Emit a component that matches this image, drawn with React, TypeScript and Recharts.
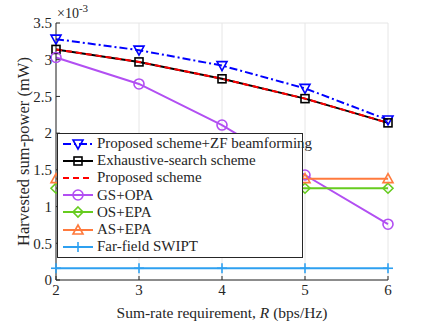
import { CartesianGrid, Legend, Line, LineChart, XAxis, YAxis } from 'recharts'

const rates = [2, 3, 4, 5, 6]
const proposedZf = [3.28, 3.13, 2.92, 2.61, 2.18]
const exhaustive = [3.14, 2.97, 2.74, 2.47, 2.14]
const proposed = [3.14, 2.97, 2.74, 2.47, 2.14]
const gsOpa = [3.03, 2.67, 2.11, 1.43, 0.76]
const osEpa = [1.25, 1.25, 1.25, 1.25, 1.25]
const asEpa = [1.38, 1.38, 1.38, 1.38, 1.38]
const farField = [0.16, 0.16, 0.16, 0.16, 0.16]
const yTicks = [0, 0.5, 1, 1.5, 2, 2.5, 3, 3.5]

const FONT = 'Liberation Serif, DejaVu Serif, serif'

type Series = {
  key: string
  name: string
  color: string
  dash?: string
  marker: 'tri-down' | 'square' | 'none' | 'circle' | 'diamond' | 'tri-up' | 'plus'
}

const series: Series[] = [
  { key: 'proposedZf', name: 'Proposed scheme+ZF beamforming', color: '#0000ff', dash: '8 3 2 3', marker: 'tri-down' },
  { key: 'exhaustive', name: 'Exhaustive-search scheme', color: '#000000', marker: 'square' },
  { key: 'proposed', name: 'Proposed scheme', color: '#ff0000', dash: '6 4', marker: 'none' },
  { key: 'gsOpa', name: 'GS+OPA', color: '#b24ff2', marker: 'circle' },
  { key: 'osEpa', name: 'OS+EPA', color: '#66cc1f', marker: 'diamond' },
  { key: 'asEpa', name: 'AS+EPA', color: '#ff7a3d', marker: 'tri-up' },
  { key: 'farField', name: 'Far-field SWIPT', color: '#2ea0f0', marker: 'plus' },
]

const data = rates.map((r, i) => ({
  r,
  proposedZf: proposedZf[i],
  exhaustive: exhaustive[i],
  proposed: proposed[i],
  gsOpa: gsOpa[i],
  osEpa: osEpa[i],
  asEpa: asEpa[i],
  farField: farField[i],
}))

function markerShape(kind: Series['marker'], cx: number, cy: number, color: string, key?: string) {
  const s = 5
  const common = { fill: 'none', stroke: color, strokeWidth: 1.6 }
  switch (kind) {
    case 'tri-down':
      return <polygon key={key} points={`${cx - s},${cy - s + 1} ${cx + s},${cy - s + 1} ${cx},${cy + s}`} {...common} />
    case 'tri-up':
      return <polygon key={key} points={`${cx - s},${cy + s - 1} ${cx + s},${cy + s - 1} ${cx},${cy - s}`} {...common} />
    case 'square':
      return <rect key={key} x={cx - 4} y={cy - 4} width={8} height={8} {...common} />
    case 'circle':
      return <circle key={key} cx={cx} cy={cy} r={5} {...common} />
    case 'diamond':
      return <polygon key={key} points={`${cx},${cy - s} ${cx + s},${cy} ${cx},${cy + s} ${cx - s},${cy}`} {...common} />
    case 'plus':
      return (
        <g key={key} {...common}>
          <line x1={cx - s} y1={cy} x2={cx + s} y2={cy} />
          <line x1={cx} y1={cy - s} x2={cx} y2={cy + s} />
        </g>
      )
    default:
      return <g key={key} />
  }
}

function ChartLegend() {
  return (
    <div
      style={{
        border: '1px solid #262626',
        background: '#fff',
        padding: '1px 0 2px 0',
        fontFamily: FONT,
        fontSize: 15,
        color: '#262626',
        boxSizing: 'border-box',
        width: 246,
      }}
    >
      {series.map((s) => (
        <div key={s.key} style={{ display: 'flex', alignItems: 'center', height: 17.2, whiteSpace: 'nowrap' }}>
          <svg width={36} height={14} style={{ flex: 'none', marginLeft: 2 }}>
            <line x1={3} y1={7} x2={33} y2={7} stroke={s.color} strokeWidth={2} strokeDasharray={s.dash} />
            {markerShape(s.marker, 18, 7, s.color)}
          </svg>
          <span style={{ marginLeft: 1 }}>{s.name}</span>
        </div>
      ))}
    </div>
  )
}

function XLabel(props: any) {
  const vb = props.viewBox || {}
  const cx = vb.x + vb.width / 2
  const y = vb.y + vb.height + 4
  return (
    <text x={cx} y={y} textAnchor="middle" fill="#262626" fontSize={15.5} fontFamily={FONT}>
      Sum-rate requirement, <tspan fontStyle="italic">R</tspan> (bps/Hz)
    </text>
  )
}

export default function App() {
  return (
    <div style={{ position: 'absolute', left: 0, top: 0, width: 429, height: 322, background: '#fff', fontFamily: FONT }}>
      <LineChart
        width={429}
        height={322}
        data={data}
        margin={{ top: 23, right: 41, bottom: 8, left: 16 }}
        style={{ fontFamily: FONT }}
      >
        <CartesianGrid stroke="#e6e6e6" strokeWidth={1} />
        <XAxis
          xAxisId="bottom"
          dataKey="r"
          type="number"
          domain={[2, 6]}
          ticks={rates}
          height={34}
          stroke="#262626"
          tickSize={-4}
          tick={{ fill: '#262626', fontSize: 15, fontFamily: FONT, dy: 6 }}
          label={<XLabel />}
        />
        <XAxis xAxisId="top" orientation="top" dataKey="r" type="number" domain={[2, 6]} ticks={rates} height={0} stroke="#262626" tickSize={-4} tick={false} />
        <YAxis
          yAxisId="left"
          type="number"
          domain={[0, 3.5]}
          ticks={yTicks}
          width={40}
          stroke="#262626"
          tickSize={-4}
          tick={{ fill: '#262626', fontSize: 15, fontFamily: FONT, dx: -6 }}
          label={{
            value: 'Harvested sum-power (mW)',
            angle: -90,
            position: 'insideLeft',
            offset: 0,
            dx: 7,
            fill: '#262626',
            fontSize: 16.5,
            fontFamily: FONT,
            style: { textAnchor: 'middle', fontFamily: FONT },
          }}
        />
        <YAxis yAxisId="right" orientation="right" type="number" domain={[0, 3.5]} ticks={yTicks} width={0} stroke="#262626" tickSize={-4} tick={false} />
        {series.map((s) => (
          <Line
            key={s.key}
            xAxisId="bottom"
            yAxisId="left"
            dataKey={s.key}
            name={s.name}
            stroke={s.color}
            strokeWidth={2}
            strokeDasharray={s.dash}
            isAnimationActive={false}
            dot={(p: any) => markerShape(s.marker, p.cx, p.cy, s.color, `${s.key}-${p.index}`)}
            activeDot={false}
          />
        ))}
        <Legend
          layout="horizontal"
          verticalAlign="middle"
          align="center"
          content={() => <ChartLegend />}
          wrapperStyle={{ left: 57, top: 133, width: 246, height: 124 }}
        />
      </LineChart>
      <div style={{ position: 'absolute', left: 57, top: 2, fontFamily: FONT, fontSize: 14, color: '#262626' }}>
        ×10<sup style={{ fontSize: 11 }}>-3</sup>
      </div>
    </div>
  )
}
